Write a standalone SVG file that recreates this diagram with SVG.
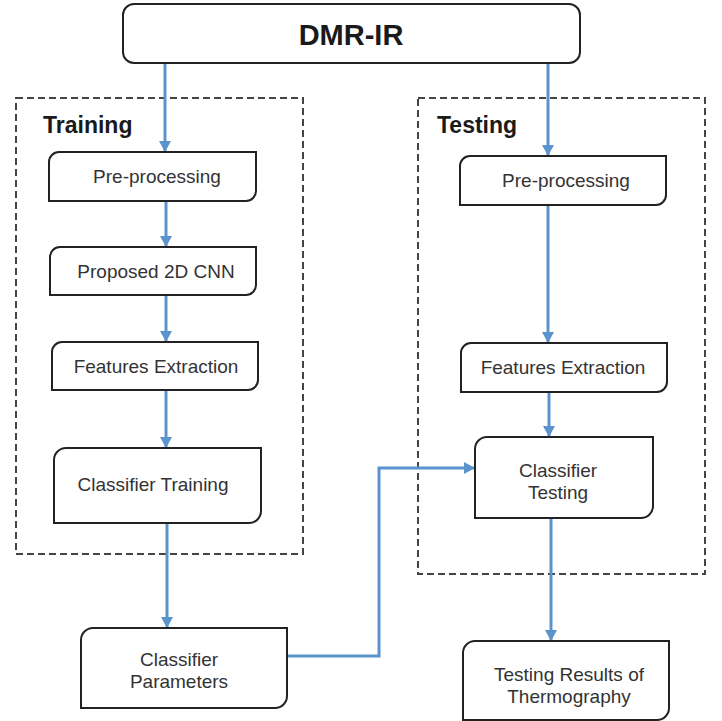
<svg xmlns="http://www.w3.org/2000/svg" width="722" height="721" viewBox="0 0 722 721">
<style>
.box{fill:#fff;stroke:#222;stroke-width:2}
.frame{fill:none;stroke:#444;stroke-width:2;stroke-dasharray:7 4}
.lbl{font-family:"Liberation Sans",Arial,sans-serif;font-size:19px;fill:#333;text-anchor:middle}
.title{font-family:"Liberation Sans",Arial,sans-serif;font-weight:bold;font-size:23px;fill:#1a1a1a}
.conn{fill:none;stroke:#5b93cc;stroke-width:3}
</style>
<defs>
<marker id="ah" markerUnits="userSpaceOnUse" markerWidth="12" markerHeight="12" refX="11" refY="6" orient="auto">
<path d="M0,0 L11,6 L0,12 Z" fill="#5b93cc"/>
</marker>
</defs>
<rect width="722" height="721" fill="#fff"/>
<g id="training-frame">
<rect class="frame" x="16" y="98" width="287" height="456"/>
<text class="title" x="43" y="133">Training</text>
</g>
<g id="testing-frame">
<rect class="frame" x="418" y="98" width="287" height="476"/>
<text class="title" x="437" y="133">Testing</text>
</g>
<g id="connectors">
<line class="conn" x1="165" y1="63" x2="165" y2="152" marker-end="url(#ah)"/>
<line class="conn" x1="166" y1="201" x2="166" y2="247" marker-end="url(#ah)"/>
<line class="conn" x1="166" y1="295" x2="166" y2="342" marker-end="url(#ah)"/>
<line class="conn" x1="166" y1="390" x2="166" y2="448" marker-end="url(#ah)"/>
<line class="conn" x1="167" y1="523" x2="167" y2="628" marker-end="url(#ah)"/>
<line class="conn" x1="548" y1="63" x2="548" y2="156" marker-end="url(#ah)"/>
<line class="conn" x1="548" y1="205" x2="548" y2="343" marker-end="url(#ah)"/>
<line class="conn" x1="549" y1="392" x2="549" y2="437" marker-end="url(#ah)"/>
<line class="conn" x1="551" y1="518" x2="551" y2="641" marker-end="url(#ah)"/>
<polyline class="conn" points="287,656 379,656 379,468 475,468" marker-end="url(#ah)"/>
</g>
<g id="dmr-ir">
<rect class="box" x="123" y="4" width="457" height="59" rx="11"/>
<text x="351" y="45" font-family="Liberation Sans,Arial,sans-serif" font-weight="bold" font-size="29" fill="#1a1a1a" text-anchor="middle">DMR-IR</text>
</g>
<g id="train-preprocessing">
<path class="box" d="M59,152 H256 V191 A10,10 0 0 1 246,201 H49 V162 A10,10 0 0 1 59,152 Z"/>
<text class="lbl" x="157" y="183">Pre-processing</text>
</g>
<g id="proposed-cnn">
<path class="box" d="M60,247 H256 V285 A10,10 0 0 1 246,295 H50 V257 A10,10 0 0 1 60,247 Z"/>
<text class="lbl" x="156" y="278" font-size="17.5">Proposed 2D CNN</text>
</g>
<g id="train-features">
<path class="box" d="M62,342 H258 V380 A10,10 0 0 1 248,390 H52 V352 A10,10 0 0 1 62,342 Z"/>
<text class="lbl" x="156" y="373">Features Extraction</text>
</g>
<g id="classifier-training">
<path class="box" d="M66,448 H261 V511 A12,12 0 0 1 249,523 H54 V460 A12,12 0 0 1 66,448 Z"/>
<text class="lbl" x="153" y="491">Classifier Training</text>
</g>
<g id="test-preprocessing">
<path class="box" d="M470,156 H666 V195 A10,10 0 0 1 656,205 H460 V166 A10,10 0 0 1 470,156 Z"/>
<text class="lbl" x="566" y="187">Pre-processing</text>
</g>
<g id="test-features">
<path class="box" d="M471,343 H667 V382 A10,10 0 0 1 657,392 H461 V353 A10,10 0 0 1 471,343 Z"/>
<text class="lbl" x="563" y="374">Features Extraction</text>
</g>
<g id="classifier-testing">
<path class="box" d="M487,437 H653 V506 A12,12 0 0 1 641,518 H475 V449 A12,12 0 0 1 487,437 Z"/>
<text class="lbl" x="558" y="477">Classifier</text>
<text class="lbl" x="558" y="499">Testing</text>
</g>
<g id="classifier-parameters">
<path class="box" d="M93,628 H287 V696 A12,12 0 0 1 275,708 H81 V640 A12,12 0 0 1 93,628 Z"/>
<text class="lbl" x="179" y="666">Classifier</text>
<text class="lbl" x="179" y="688">Parameters</text>
</g>
<g id="testing-results">
<path class="box" d="M475,641 H669 V708 A12,12 0 0 1 657,720 H463 V653 A12,12 0 0 1 475,641 Z"/>
<text class="lbl" x="569" y="681">Testing Results of</text>
<text class="lbl" x="569" y="703">Thermography</text>
</g>
</svg>
